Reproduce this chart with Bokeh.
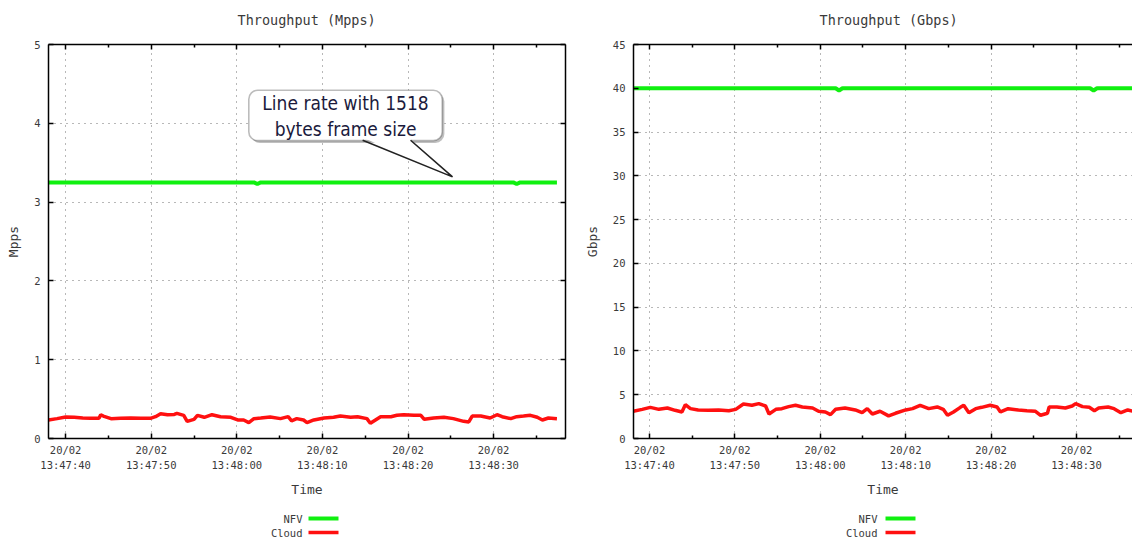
from bokeh.plotting import figure
from bokeh.models import (Range1d, FixedTicker, LinearAxis, Label, BoxAnnotation,
                          CustomJSTickFormatter)
from bokeh.layouts import row, column
from bokeh.embed import file_html
from bokeh.resources import INLINE

# ---------------- data (time in seconds relative to 20/02 13:47:40) ----------------
tick_seconds = [0, 10, 20, 30, 40, 50]
tick_labels = ["20/02\n13:47:40", "20/02\n13:47:50", "20/02\n13:48:00",
               "20/02\n13:48:10", "20/02\n13:48:20", "20/02\n13:48:30"]
minor_seconds = [5, 15, 25, 35, 45, 55]

series_names = ["NFV", "Cloud"]

nfv_mpps_t = [-2.0, 22.0, 22.4, 22.8, 52.3, 52.7, 53.1, 57.4]
nfv_mpps = [3.25, 3.25, 3.23, 3.25, 3.25, 3.23, 3.25, 3.25]

cloud_mpps_t = [-2.0, -1.0, 0.0, 1.0, 2.0, 2.9, 3.9, 4.1, 4.4, 5.3, 6.4, 7.6, 8.8, 9.9,
                10.5, 11.1, 11.9, 12.7, 13.0, 13.8, 14.2, 15.0, 15.4, 16.2, 17.1, 18.1,
                19.3, 20.1, 20.8, 21.4, 22.0, 22.8, 23.9, 25.1, 26.0, 26.4, 27.0, 27.8,
                28.2, 29.0, 30.2, 31.3, 32.1, 33.3, 34.1, 35.2, 35.6, 36.2, 36.8, 38.0,
                38.7, 39.5, 40.7, 41.5, 41.9, 43.0, 44.2, 45.3, 46.5, 47.1, 47.5, 48.5,
                49.6, 50.4, 51.0, 52.0, 52.7, 53.5, 54.3, 55.1, 55.7, 56.4, 57.4]
cloud_mpps = [0.235, 0.252, 0.273, 0.269, 0.260, 0.256, 0.256, 0.302, 0.285, 0.252, 0.256,
              0.260, 0.256, 0.256, 0.277, 0.315, 0.302, 0.306, 0.319, 0.294, 0.218, 0.243,
              0.294, 0.269, 0.302, 0.277, 0.269, 0.235, 0.235, 0.202, 0.252, 0.260, 0.273,
              0.252, 0.277, 0.225, 0.252, 0.235, 0.202, 0.235, 0.260, 0.269, 0.285, 0.269,
              0.277, 0.252, 0.193, 0.235, 0.277, 0.277, 0.294, 0.302, 0.294, 0.294, 0.243,
              0.260, 0.269, 0.252, 0.218, 0.210, 0.285, 0.285, 0.260, 0.302, 0.277, 0.252,
              0.277, 0.285, 0.294, 0.269, 0.235, 0.260, 0.252]

nfv_gbps_t = [-2.0, 21.8, 22.2, 22.6, 51.6, 52.0, 52.4, 57.4]
nfv_gbps = [40.0, 40.0, 39.75, 40.0, 40.0, 39.75, 40.0, 40.0]

cloud_gbps_t = [-1.9, -0.85, 0.1, 1.1, 2.1, 3.0, 3.8, 4.2, 4.8, 5.7, 6.9, 8.1, 9.3, 10.1,
                11.0, 12.0, 12.8, 13.6, 14.0, 14.8, 15.5, 16.3, 17.1, 17.9, 19.1, 19.8,
                20.6, 21.2, 21.8, 22.9, 24.1, 24.9, 25.5, 26.1, 27.0, 28.0, 28.8, 30.0,
                30.8, 31.7, 32.7, 33.7, 34.4, 34.9, 35.6, 36.4, 36.8, 37.4, 38.2, 38.9,
                39.9, 40.7, 41.1, 42.0, 43.2, 44.2, 45.2, 45.8, 46.6, 46.8, 47.7, 48.7,
                49.5, 49.9, 50.7, 51.5, 52.1, 52.6, 53.7, 54.4, 55.2, 56.0, 56.6, 57.4]
cloud_gbps = [3.11, 3.33, 3.56, 3.33, 3.48, 3.22, 3.03, 3.86, 3.41, 3.26, 3.22, 3.26, 3.18,
              3.33, 3.94, 3.79, 3.98, 3.71, 2.80, 3.33, 3.41, 3.64, 3.79, 3.60, 3.48, 3.11,
              3.03, 2.73, 3.33, 3.48, 3.26, 2.95, 3.41, 2.80, 3.11, 2.58, 2.88, 3.26, 3.41,
              3.79, 3.41, 3.60, 3.33, 2.65, 3.03, 3.56, 3.79, 2.95, 3.41, 3.56, 3.79, 3.60,
              3.03, 3.41, 3.26, 3.18, 3.11, 2.65, 2.88, 3.60, 3.60, 3.48, 3.71, 3.98, 3.64,
              3.56, 3.18, 3.48, 3.60, 3.41, 2.95, 3.26, 3.11, 3.20]

mpps_ticks = [0, 1, 2, 3, 4, 5]
gbps_ticks = [0, 5, 10, 15, 20, 25, 30, 35, 40, 45]

callout_lines = ["Line rate with 1518", "bytes frame size"]

# ---------------- styling ----------------
MONO = "DejaVu Sans Mono"
TXT = "#3a3a3a"
GREEN = "#10f010"
RED = "#ff1010"
SERIES_COLORS = [GREEN, RED]
SERIES_WIDTHS = [4, 3.5]
CALLOUT_FONT = "'Liberation Sans Narrow', 'DejaVu Sans Condensed', sans-serif"
BLANK = CustomJSTickFormatter(code="return ''")


def style_axis(ax, labels=True):
    ax.axis_line_color = "black"
    ax.axis_line_width = 1.5
    ax.major_tick_in = 5
    ax.major_tick_out = 0
    ax.major_tick_line_color = "black"
    ax.major_tick_line_width = 1.5
    ax.minor_tick_in = 3
    ax.minor_tick_out = 0
    ax.minor_tick_line_color = "black"
    ax.minor_tick_line_width = 1.5
    ax.major_label_text_font = MONO
    ax.major_label_text_font_size = "10.5px"
    ax.major_label_text_color = TXT
    ax.axis_label_text_font = MONO
    ax.axis_label_text_font_size = "13px"
    ax.axis_label_text_font_style = "normal"
    ax.axis_label_text_color = TXT
    if not labels:
        ax.formatter = BLANK
        ax.major_label_standoff = 0


def make_fig(width, x_start, x_end, y_max, yticks, ytitle, title, title_offset,
             min_left, min_right, nfv_t, nfv_v, cl_t, cl_v, mirror_right):
    p = figure(width=width, height=500, x_range=Range1d(x_start, x_end),
               y_range=Range1d(0, y_max), output_backend="svg", toolbar_location=None,
               min_border_left=min_left, min_border_right=min_right, min_border_top=44,
               min_border_bottom=60, x_axis_location=None, y_axis_location=None)
    p.background_fill_color = "white"
    p.border_fill_color = "white"
    p.outline_line_color = None

    xt = FixedTicker(ticks=tick_seconds, minor_ticks=minor_seconds)
    yt = FixedTicker(ticks=yticks, minor_ticks=[])

    xb = LinearAxis(ticker=xt, axis_label="Time")
    style_axis(xb)
    xb.major_label_overrides = {float(s): l for s, l in zip(tick_seconds, tick_labels)}
    xb.major_label_standoff = 5
    xb.axis_label_standoff = 8
    xb.major_label_text_line_height = 1.3
    p.add_layout(xb, "below")

    # top border of the frame with mirrored inward ticks
    xa = LinearAxis(ticker=xt)
    style_axis(xa, labels=False)
    p.add_layout(xa, "above")
    # invisible spacer between the frame and the title
    sp = LinearAxis(ticker=xt, formatter=BLANK, axis_line_color=None,
                    major_tick_line_color=None, minor_tick_line_color=None,
                    major_tick_in=0, major_tick_out=11, minor_tick_in=0, minor_tick_out=0,
                    major_label_standoff=0)
    p.add_layout(sp, "above")

    yl = LinearAxis(ticker=yt, axis_label=ytitle)
    style_axis(yl)
    yl.major_label_standoff = 8
    yl.axis_label_standoff = 10
    p.add_layout(yl, "left")

    if mirror_right:
        yr = LinearAxis(ticker=yt)
        style_axis(yr, labels=False)
        p.add_layout(yr, "right")

    p.xgrid.ticker = xt
    p.ygrid.ticker = yt
    for g in (p.xgrid, p.ygrid):
        g.grid_line_color = "#707070"
        g.grid_line_dash = "1 5"
        g.grid_line_width = 1

    p.title.text = title
    p.title.align = "left"
    p.title.offset = title_offset
    p.title.standoff = 12
    p.title.text_font = MONO
    p.title.text_font_size = "13.5px"
    p.title.text_font_style = "normal"
    p.title.text_color = TXT

    p.line(nfv_t, nfv_v, line_color=GREEN, line_width=4)
    p.line(cl_t, cl_v, line_color=RED, line_width=3.5)
    return p


def make_legend(width, text_right, glyph_x):
    # gnuplot-style key: name on the left, line sample on the right (screen units,
    # relative to the key frame, which Bokeh aligns with the chart frame above it)
    lg = figure(width=width, height=39, x_range=Range1d(0, 1), y_range=Range1d(0, 1),
                output_backend="svg", toolbar_location=None, title=None,
                min_border=0, x_axis_location=None, y_axis_location=None)
    lg.outline_line_color = None
    lg.xgrid.visible = False
    lg.ygrid.visible = False
    lg.background_fill_color = "white"
    for i, name in enumerate(series_names):
        yc = 21 - 14 * i
        lg.add_layout(Label(x=text_right, y=yc, x_units="screen", y_units="screen",
                            text=name, text_font=MONO, text_font_size="10.5px",
                            text_color=TXT, text_align="right", text_baseline="middle"))
        w = SERIES_WIDTHS[i]
        lg.add_layout(BoxAnnotation(left=glyph_x, right=glyph_x + 30, bottom=yc - w / 2,
                                    top=yc + w / 2, left_units="screen",
                                    right_units="screen", bottom_units="screen",
                                    top_units="screen", fill_color=SERIES_COLORS[i],
                                    fill_alpha=1.0, line_color=None))
    return lg


p1 = make_fig(580, -2.0, 58.4, 5, mpps_ticks, "Mpps", "Throughput (Mpps)", 189, 48, 15,
              nfv_mpps_t, nfv_mpps, cloud_mpps_t, cloud_mpps, True)

# callout on the Mpps chart (positions in data units)
shadow = BoxAnnotation(left=21.65, right=44.25, bottom=3.75, top=4.39, fill_color="#b0b0b0",
                       fill_alpha=0.8, line_color=None, border_radius=9)
p1.add_layout(shadow)
box = BoxAnnotation(left=21.4, right=44.0, bottom=3.78, top=4.42, fill_color="white",
                    fill_alpha=1.0, line_color="#222222", line_width=1.6, border_radius=9)
p1.add_layout(box)
tail_fill = p1.patch([34.9, 45.2, 40.1], [3.81, 3.32, 3.81], fill_color="white",
                     line_color=None)
tail_fill.level = "overlay"
tail_edge = p1.line([34.7, 45.2, 40.3], [3.785, 3.32, 3.785], line_color="#222222",
                    line_width=1.6)
tail_edge.level = "overlay"
for i, txt in enumerate(callout_lines):
    p1.add_layout(Label(x=32.7, y=4.26 - 0.33 * i, text=txt, text_font=CALLOUT_FONT,
                        text_font_size="19px", text_color="#1a1a3c", text_align="center",
                        text_baseline="middle"))

p2 = make_fig(552, -1.87, 56.56, 45, gbps_ticks, "Gbps", "Throughput (Gbps)", 186, 53, 0,
              nfv_gbps_t, nfv_gbps, cloud_gbps_t, cloud_gbps, False)

l1 = make_legend(580, 254, 260)
l2 = make_legend(552, 244, 252)

layout = row(column(p1, l1, spacing=0), column(p2, l2, spacing=0), spacing=0)
open("out.html", "w").write(file_html(layout, INLINE))
